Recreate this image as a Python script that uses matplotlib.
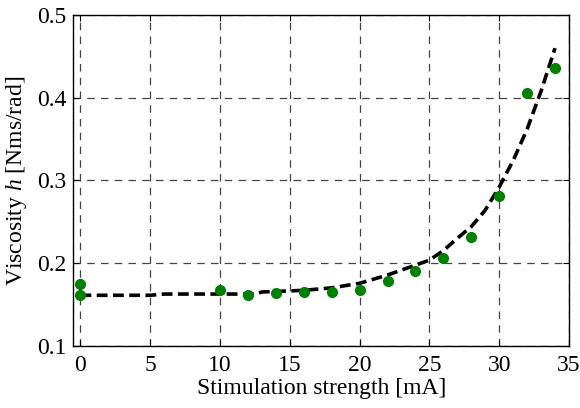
import matplotlib
matplotlib.use("Agg")
import matplotlib.pyplot as plt

# measured viscosity (green dots)
stim = [0, 0, 10, 12, 14, 16, 18, 20, 22, 24, 26, 28, 30, 32, 34]
visc = [0.1746, 0.161, 0.167, 0.161, 0.1634, 0.1646, 0.1646, 0.1674,
        0.1786, 0.1907, 0.2057, 0.231, 0.281, 0.406, 0.436]

# model fit (dashed line)
fit_x = [0, 5, 6, 12.5, 13, 16, 18, 20, 22, 24, 25, 26, 27, 28, 29,
         30, 31, 32, 33, 34]
fit_y = [0.161, 0.161, 0.1625, 0.1625, 0.165, 0.167, 0.170, 0.1755, 0.1855,
         0.1975, 0.2035, 0.215, 0.23, 0.244, 0.264, 0.292, 0.324, 0.362,
         0.408, 0.46]

plt.rcParams["font.family"] = ["Liberation Serif", "DejaVu Serif"]
plt.rcParams["mathtext.fontset"] = "custom"
plt.rcParams["mathtext.it"] = "Liberation Serif:italic"

fig = plt.figure(figsize=(5.8, 4.08), dpi=100)
ax = fig.add_axes([0.1267, 0.1527, 0.8543, 0.8103])

ax.plot(fit_x, fit_y, ls="--", color="black", lw=2.6, dashes=(3, 1.5), zorder=3)
ax.plot(stim, visc, "o", color="#008000", ms=7, mec="#008000", zorder=4)

ax.set_xlim(-0.5, 35)
ax.set_ylim(0.1, 0.5)
ax.set_xticks(range(0, 36, 5))
ax.set_yticks([0.1, 0.2, 0.3, 0.4, 0.5])
ax.grid(True, ls=(0, (6, 5)), color="#444444", lw=0.9)
ax.tick_params(direction="in", labelsize=17, top=True, right=True, length=4,
               pad=5)
ax.tick_params(axis="x", pad=7)
for sp in ax.spines.values():
    sp.set_linewidth(1.0)

ax.set_xlabel("Stimulation strength [mA]", fontsize=17, labelpad=1)
ax.set_ylabel("Viscosity $h$ [Nms/rad]", fontsize=17, labelpad=6)

fig.savefig("out.png", dpi=100)
